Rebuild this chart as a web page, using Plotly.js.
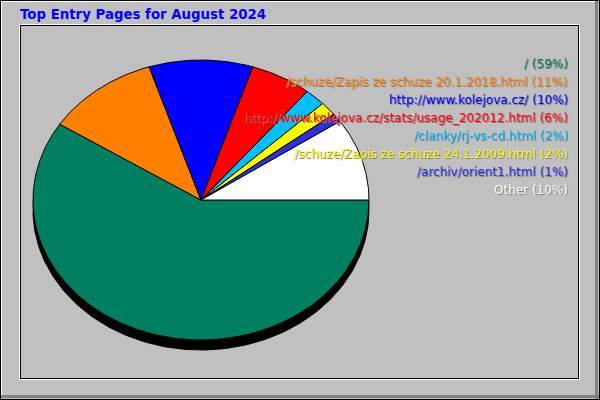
<!DOCTYPE html>
<html>
<head>
<meta charset="utf-8">
<script src="https://cdn.plot.ly/plotly-3.0.1.min.js"></script>
<style>html,body{margin:0;padding:0;background:#C0C0C0;}#chart{width:600px;height:400px;}</style>
</head>
<body>
<div id="chart"></div>
<script>
// ---- data ----
const chartTitle = "Top Entry Pages for August 2024";
const pages = [
  "/",
  "/schuze/Zapis ze schuze 20.1.2018.html",
  "http://www.kolejova.cz/",
  "http://www.kolejova.cz/stats/usage_202012.html",
  "/clanky/rj-vs-cd.html",
  "/schuze/Zapis ze schuze 24.1.2009.html",
  "/archiv/orient1.html",
  "Other"
];
const shares = [59.1, 10.9, 10.0, 5.9, 2.0, 1.6, 1.0, 9.5];
const shareLabels = ["59%", "11%", "10%", "6%", "2%", "2%", "1%", "10%"];

// ---- styles ----
const sliceColors = ["#008060", "#FF8000", "#0000FF", "#FF0000", "#00C0FF", "#FFFF00", "#3030E0", "#FFFFFF"];
const labelColors = ["#008060", "#FF8000", "#0000FF", "#FF0000", "#00C0FF", "#FFFF00", "#3030E0", "#FFFFFF"];
const pie = {cx: 201, cy: 200, rx: 168, ry: 140, depth: 10};

function ellipsePt(deg, cyOff) {
  const t = deg * Math.PI / 180;
  return [pie.cx + pie.rx * Math.cos(t), pie.cy + (cyOff || 0) + pie.ry * Math.sin(t)];
}

const traces = [];
// 3D thickness (shadow ellipse)
{
  const xs = [], ys = [];
  for (let a = 0; a <= 360; a += 1) { const p = ellipsePt(a, pie.depth); xs.push(p[0]); ys.push(p[1]); }
  traces.push({type: "scatter", mode: "lines", x: xs, y: ys, fill: "toself", fillcolor: "#000000",
    line: {color: "#000000", width: 1}, hoverinfo: "skip", showlegend: false});
}
// slices
const total = shares.reduce((a, b) => a + b, 0);
let acc = 0;
shares.forEach((v, i) => {
  const a0 = acc / total * 360;
  acc += v;
  const a1 = acc / total * 360;
  const xs = [pie.cx], ys = [pie.cy];
  const n = Math.max(2, Math.ceil((a1 - a0) / 0.5));
  for (let k = 0; k <= n; k++) {
    const p = ellipsePt(a0 + (a1 - a0) * k / n);
    xs.push(p[0]); ys.push(p[1]);
  }
  xs.push(pie.cx); ys.push(pie.cy);
  traces.push({type: "scatter", mode: "lines", x: xs, y: ys, fill: "toself", fillcolor: sliceColors[i],
    line: {color: "#000000", width: 1}, name: pages[i], hoverinfo: "name", showlegend: false});
});

// labels with shadow
const annotations = [];
const font = "DejaVu Sans, sans-serif";
pages.forEach((p, i) => {
  const txt = p + " (" + shareLabels[i] + ")";
  const y = 64 + 18 * i;
  annotations.push({xref: "x", yref: "y", x: 571, y: y + 1, xanchor: "right", yanchor: "middle", showarrow: false,
    text: txt, font: {family: font, size: 12, color: "#808080"}});
  annotations.push({xref: "x", yref: "y", x: 570, y: y, xanchor: "right", yanchor: "middle", showarrow: false,
    text: txt, font: {family: font, size: 12, color: labelColors[i]}});
});
// title
annotations.push({xref: "x", yref: "y", x: 18, y: 14, xanchor: "left", yanchor: "middle", showarrow: false,
  text: "<b>" + chartTitle + "</b>", font: {family: font, size: 13.33, color: "#0000FF"}});

const L = (x0, y0, x1, y1, color, w) => ({type: "line", xref: "x", yref: "y", x0, y0, x1, y1, line: {color, width: w || 1}, layer: "above"});
const shapes = [
  // outer bevel
  L(0, 0.5, 600, 0.5, "#000000"), L(0.5, 0, 0.5, 400, "#000000"),
  L(1, 1.5, 597, 1.5, "#FFFFFF"), L(1.5, 1, 1.5, 397, "#FFFFFF"),
  L(1, 396.5, 599, 396.5, "#808080", 3), L(596.5, 1, 596.5, 399, "#808080", 3),
  L(0, 399.5, 600, 399.5, "#000000"), L(599.5, 0, 599.5, 400, "#000000"),
  // inner panel
  L(19, 24.5, 580, 24.5, "#FFFFFF"), L(19.5, 24, 19.5, 380, "#FFFFFF"),
  L(20, 25.5, 579, 25.5, "#000000"), L(20.5, 25, 20.5, 379, "#000000"),
  L(20, 378.5, 579, 378.5, "#000000"), L(578.5, 25, 578.5, 379, "#000000"),
  L(20, 379.5, 580, 379.5, "#FFFFFF"), L(579.5, 25, 579.5, 380, "#FFFFFF")
];
shapes.forEach(s => s.layer = "below");

const layout = {
  width: 600, height: 400, autosize: false,
  margin: {l: 0, r: 0, t: 0, b: 0, pad: 0},
  paper_bgcolor: "#C0C0C0", plot_bgcolor: "#C0C0C0",
  xaxis: {range: [0, 600], visible: false, fixedrange: true},
  yaxis: {range: [400, 0], visible: false, fixedrange: true},
  showlegend: false,
  annotations, shapes
};
Plotly.newPlot("chart", traces, layout, {staticPlot: true, displayModeBar: false});
</script>
</body>
</html>
